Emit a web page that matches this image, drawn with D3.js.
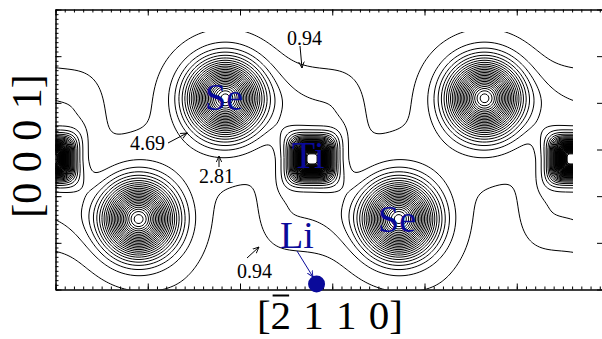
<!DOCTYPE html>
<html><head><meta charset="utf-8">
<script src="https://cdn.jsdelivr.net/npm/d3@7"></script>
<style>body{margin:0;background:#fff}svg{display:block}</style>
</head><body>
<svg id="chart" width="602" height="339"></svg>
<script>
// Contour levels of the valence charge density
const levels = [0.94, 2.81, 4.69, 6.56, 8.44, 10.31, 12.19, 14.06, 15.94, 17.81,
  19.69, 21.56, 23.44, 25.31, 27.19, 29.06, 30.94, 32.81, 34.69, 36.56,
  38.44, 40.31, 42.19, 44.06, 45.94, 47.81, 49.69, 51.56, 53.44, 55.31,
  57.19, 59.06, 60.94, 62.81, 64.69, 66.56, 68.44, 70.31, 72.19, 74.06,
  75.94, 77.81, 79.69];
// Atom positions in axis units ([-2110] horizontal, [0001] vertical)
const tiX = [-0.05, 2.77, 5.59];
const tiY = [2.82, 2.82, 2.82];
const seX = [-0.99, 1.83, 4.64, 0.89, 3.71, 6.53, 1.83, 4.64];
const seY = [4.12, 4.12, 4.12, 1.53, 1.53, 1.53, -1.55, -1.55];
const liX = [2.83];
const liY = [0.12];
// Text annotations of contour values
const annotValues = ["0.94", "4.69", "2.81", "0.94"];

const x = d3.scaleLinear().domain([0, 6]).range([55.5, 609]);
const y = d3.scaleLinear().domain([0, 6]).range([289.5, 9.5]);
const plotLeft = 55.5, plotRight = 573, plotTop = 9.5, plotBottom = 289.5;
// vertical extent covered by the density grid
const dataTop = y(5.52);

const svg = d3.select("#chart");

// ---- density model -------------------------------------------------------
function seDensity(dx, dy) {
  const r2 = dx * dx + dy * dy;
  return 45 * Math.exp(-r2 / 1008) + 4 * Math.exp(-Math.sqrt(r2) / 35);
}
function tiDensity(dx, dy) {
  const rp = Math.pow(dx ** 4 + dy ** 4, 0.25);
  const v = 295 * Math.exp(-rp / 7);
  const core = 84 * Math.tanh(v / 84);
  // lobes reaching out along [0001] above and below the Ti site
  const lobe = 2.3 * Math.exp(-(((Math.abs(dy) - 55) / 31.5) ** 2)) * Math.exp(-((dx / 47) ** 4));
  return core + lobe;
}
const tiPx = tiX.map((d, i) => [x(d), y(tiY[i])]);
const sePx = seX.map((d, i) => [x(d), y(seY[i])]);
const layerY = y(tiY[0]);
function density(px, py) {
  let v = 0.5 * Math.exp(-(((py - layerY) / 40) ** 2));
  for (const [ax, ay] of sePx) v += seDensity(px - ax, py - ay);
  for (const [ax, ay] of tiPx) v += tiDensity(px - ax, py - ay);
  return v;
}

// ---- grid + contours -----------------------------------------------------
const gx0 = Math.floor(plotLeft) - 3, gy0 = Math.floor(dataTop) - 3;
const nx = Math.ceil(plotRight - gx0) + 4, ny = Math.ceil(plotBottom - gy0) + 4;
const values = new Float64Array(nx * ny);
for (let j = 0; j < ny; j++)
  for (let i = 0; i < nx; i++)
    values[j * nx + i] = density(gx0 + i, gy0 + j);

const contours = d3.contours().size([nx, ny]).thresholds(levels)(values);
const path = d3.geoPath(d3.geoIdentity().translate([gx0 + 0.5, gy0 + 0.5]));

svg.append("clipPath").attr("id", "plotClip").append("rect")
  .attr("x", plotLeft).attr("y", dataTop)
  .attr("width", plotRight - plotLeft).attr("height", plotBottom - dataTop);

svg.append("g").attr("clip-path", "url(#plotClip)")
  .selectAll("path").data(contours).join("path")
  .attr("d", path).attr("fill", "none").attr("stroke", "#000")
  .attr("stroke-width", 1);

// ---- axes ---------------------------------------------------------------
const minorX = d3.range(0, 6.001, 0.1), majorX = d3.range(0, 7, 1);
const minorY = d3.range(0, 6.001, 0.1), majorY = d3.range(0, 7, 1);
function drawAxis(axisFn, scale, vals, size, transform) {
  const g = svg.append("g").attr("transform", transform)
    .call(axisFn(scale).tickValues(vals).tickSize(size).tickSizeOuter(0).tickFormat(""));
  g.selectAll("path,line").attr("stroke", "#000").attr("stroke-width", 1);
  return g;
}
drawAxis(d3.axisTop, x, minorX, 3, `translate(0,${plotBottom})`);
drawAxis(d3.axisTop, x, majorX, 6, `translate(0,${plotBottom})`);
drawAxis(d3.axisBottom, x, minorX, 3, `translate(0,${plotTop})`);
drawAxis(d3.axisBottom, x, majorX, 6, `translate(0,${plotTop})`);
drawAxis(d3.axisRight, y, minorY, 3, `translate(${plotLeft},0)`);
drawAxis(d3.axisRight, y, majorY, 6, `translate(${plotLeft},0)`);
drawAxis(d3.axisLeft, y, majorY, 9, `translate(606,0)`);

// ---- axis titles ---------------------------------------------------------
const serif = "'Liberation Serif','Times New Roman',serif";
const xt = svg.append("text").attr("x", 330).attr("y", 329)
  .attr("text-anchor", "middle").attr("font-family", serif).attr("font-size", 41)
  .attr("word-spacing", 2).text("[2 1 1 0]");
const ext = xt.node().getExtentOfChar(1);
svg.append("line").attr("x1", ext.x + 2).attr("x2", ext.x + ext.width - 2)
  .attr("y1", 295.5).attr("y2", 295.5).attr("stroke", "#000").attr("stroke-width", 2);
svg.append("text").attr("transform", "translate(41,146) rotate(-90)")
  .attr("text-anchor", "middle").attr("font-family", serif).attr("font-size", 42)
  .text("[0 0 0 1]");

// ---- atom labels ----------------------------------------------------------
const blue = "#0a0a9a";
const atomLabels = [["Se", 205, 110], ["Se", 378, 232], ["Ti", 292, 168], ["Li", 280, 248]];
svg.selectAll("text.atom").data(atomLabels).join("text").attr("class", "atom")
  .attr("x", d => d[1]).attr("y", d => d[2]).attr("fill", blue)
  .attr("font-family", serif).attr("font-size", 38).text(d => d[0]);
svg.append("circle").attr("cx", x(liX[0])).attr("cy", y(liY[0])).attr("r", 8.5).attr("fill", blue);

// ---- arrows ---------------------------------------------------------------
const defs = svg.append("defs");
function marker(id, color) {
  defs.append("marker").attr("id", id).attr("viewBox", "0 0 10 10").attr("refX", 9).attr("refY", 5)
    .attr("markerWidth", 7).attr("markerHeight", 7).attr("orient", "auto-start-reverse")
    .append("path").attr("d", "M0,1 L9,5 L0,9").attr("fill", "none").attr("stroke", color).attr("stroke-width", 1.3);
}
marker("ahBlack", "#000");
marker("ahBlue", blue);
const arrows = [[300, 46, 302, 68, "#000", "ahBlack"], [168, 143, 187, 133, "#000", "ahBlack"],
  [219, 167, 219, 156, "#000", "ahBlack"], [247, 258, 259, 247, "#000", "ahBlack"],
  [297, 251, 313, 277, blue, "ahBlue"]];
svg.selectAll("line.arrow").data(arrows).join("line").attr("class", "arrow")
  .attr("x1", d => d[0]).attr("y1", d => d[1]).attr("x2", d => d[2]).attr("y2", d => d[3])
  .attr("stroke", d => d[4]).attr("stroke-width", 1).attr("marker-end", d => `url(#${d[5]})`);

// ---- value annotations ---------------------------------------------------
const annotPos = [[287, 45], [130, 150], [199, 183], [237, 278]];
svg.selectAll("text.val").data(annotValues).join("text").attr("class", "val")
  .attr("x", (d, i) => annotPos[i][0]).attr("y", (d, i) => annotPos[i][1])
  .attr("font-family", serif).attr("font-size", 20).text(d => d);
</script>
</body></html>
